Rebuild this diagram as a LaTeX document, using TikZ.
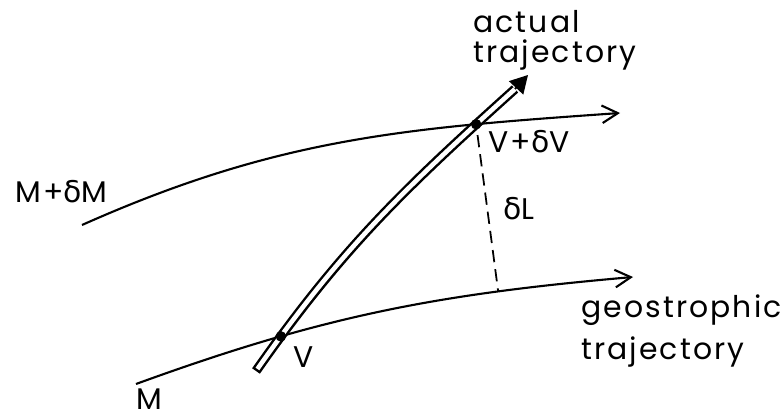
\documentclass[tikz,border=0pt]{standalone}
\usepackage{fontspec}
\setmainfont{Poppins}[LetterSpace=7]
\newfontfamily\grkfont{DejaVu Sans}
\newcommand{\dlt}{{\grkfont δ}}
\usetikzlibrary{arrows.meta,intersections}

\begin{document}
\begin{tikzpicture}[x=0.02cm,y=-0.02cm,
  curve/.style={line width=1.2pt,-{Straight Barb[length=9pt,width=10pt]}},
  lbl/.style={font=\fontsize{17}{20}\selectfont,inner sep=0pt,anchor=base west},
  dot/.style={circle,fill,inner sep=0pt,minimum size=6pt}]
\useasboundingbox (0,0) rectangle (783,418);
\coordinate (u0) at (82,225);
\coordinate (u1) at (620,113);
\coordinate (l0) at (136,384);
\coordinate (l1) at (633,277);
\coordinate (t0) at (256,371);
\coordinate (t1) at (515,89);
\coordinate (t2) at (528,75);
\draw[curve,name path=upper] (u0) to[out=24,in=184] (u1);
\draw[curve,name path=lower] (l0) to[out=20,in=185] coordinate[pos=0.75] (foot) (l1);
\draw[line width=5.4pt] (t0) to[out=55,in=222] (t1);
\draw[white,line width=2.6pt,shorten <=1.4pt,name path=traj] (t0) to[out=55,in=222] (t1);
\draw[line width=1pt,-{Triangle[length=10pt,width=11pt]}] (t1) -- (t2);
\path[name intersections={of=upper and traj,by=vdv}];
\path[name intersections={of=lower and traj,by=v}];
\node[dot] (vdvdot) at (vdv) {};
\node[dot] (vdot) at (v) {};
\draw[line width=1pt,dash pattern=on 7pt off 4pt,dash phase=-3pt] (vdvdot) -- (foot);
\node[lbl] (act1) at (473,33) {actual};
\node[lbl] (act2) at (473,63) {trajectory};
\node[lbl] (vdvlbl) at (488,153) {V+\dlt V};
\node[lbl] (mdmlbl) at (15,203) {M+\dlt M};
\node[lbl] (dllbl) at (503,220) {\dlt L};
\node[lbl] (geo1) at (581,317) {geostrophic};
\node[lbl] (geo2) at (581,359) {trajectory};
\node[lbl] (vlbl) at (293,367) {V};
\node[lbl] (mlbl) at (136,409) {M};
\end{tikzpicture}
\end{document}
